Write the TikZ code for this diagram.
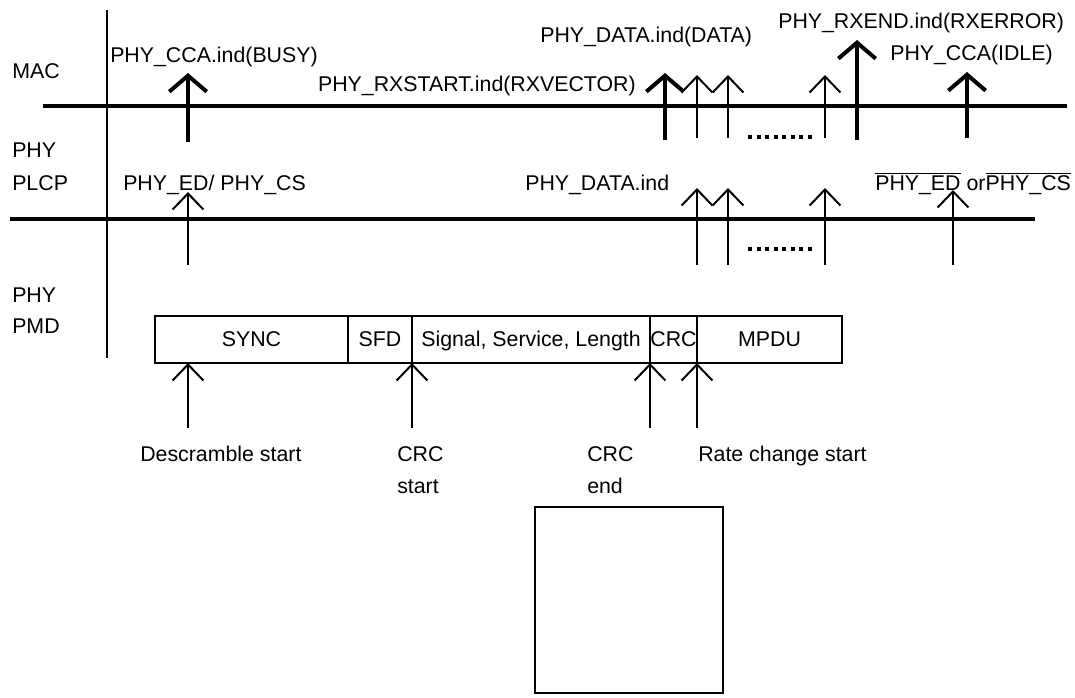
\documentclass[tikz,border=0pt]{standalone}
\usepackage{fontspec}
\setmainfont{Liberation Sans}
\usetikzlibrary{arrows.meta,positioning}
\tikzset{>=latex}
\tikzset{font=\fontsize{16}{24}\selectfont}
\tikzset{layer/.style={line width=3pt},
  bigup/.style={line width=3pt, -{Straight Barb[length=12pt,width=28pt]}},
  smallup/.style={line width=1.5pt, -{Straight Barb[length=12pt,width=23pt]}},
  field/.style={draw, line width=1.5pt, minimum height=35.25pt, inner sep=0pt,
    outer sep=0pt, text height=11pt, text depth=0pt},
  lbl/.style={anchor=base west, inner sep=0pt},
  dots/.style={line width=2.6pt, dash pattern=on 3pt off 3.4pt}}

\begin{document}
\begin{tikzpicture}[x=0.75pt, y=-0.75pt]
  \useasboundingbox (0,0) rectangle (1075,697);
  % time axis and the two interfaces
  \draw[line width=1.5pt] (107,10) -- (107,358);
  \draw[layer] (43,106) -- (1067,106);
  \draw[layer] (10,219) -- (1035,219);
  \node[lbl] (mac) at (12,78) {MAC};
  \node[lbl] (phya) at (12,157) {PHY};
  \node[lbl] (plcp) at (12,190) {PLCP};
  \node[lbl] (phyb) at (12,302) {PHY};
  \node[lbl] (pmd) at (12,333) {PMD};

  % primitives to the MAC
  \node[lbl] (busy) at (110,62) {PHY\_CCA.ind(BUSY)};
  \node[anchor=base east, inner sep=0pt] (rxstart) at (636,91) {PHY\_RXSTART.ind(RXVECTOR)};
  \node[lbl] (data) at (540,42) {PHY\_DATA.ind(DATA)};
  \node[lbl] (rxend) at (778,28) {PHY\_RXEND.ind(RXERROR)};
  \node[lbl] (idle) at (890,60) {PHY\_CCA(IDLE)};
  \draw[bigup] (188,142) -- (188,73);
  \draw[bigup] (665,140) -- (665,73);
  \draw[bigup] (857,140) -- (857,40);
  \draw[bigup] (967,138) -- (967,72);
  \foreach \x in {697,728,825}
    \draw[smallup] (\x,138) -- (\x,75);
  \draw[dots] (748,137) -- (815,137);

  % PLCP primitives
  \node[lbl] (edcs) at (123,190) {PHY\_ED/ PHY\_CS};
  \node[lbl] (dataind) at (525,190) {PHY\_DATA.ind};
  \node[lbl] (noedcs) at (875,190) {\(\overline{\mbox{PHY\_ED}}\) or\(\overline{\mbox{PHY\_CS}}\)};
  \draw[smallup] (188,265) -- (188,192);
  \draw[smallup] (953,265) -- (953,190);
  \foreach \x in {697,728,825}
    \draw[smallup] (\x,265) -- (\x,188);
  \draw[dots] (748,249) -- (815,249);

  % PPDU fields
  \node[field, minimum width=144.75pt, anchor=north west] (sync) at (155,316) {SYNC};
  \node[field, minimum width=48pt, right=0pt of sync] (sfd) {SFD};
  \node[field, minimum width=178.5pt, right=0pt of sfd] (sig) {Signal, Service, Length};
  \node[field, minimum width=35.25pt, right=0pt of sig] (crc) {CRC};
  \node[field, minimum width=108.75pt, right=0pt of crc] (mpdu) {MPDU};

  % receive events
  \draw[smallup] ([xshift=24.75pt, yshift=-48.75pt]sync.south west) -- ([xshift=24.75pt]sync.south west);
  \draw[smallup] ([yshift=-48.75pt]sfd.south east) -- (sfd.south east);
  \draw[smallup] ([yshift=-48.75pt]sig.south east) -- (sig.south east);
  \draw[smallup] ([yshift=-48.75pt]crc.south east) -- (crc.south east);
  \node[lbl] (desc) at (140,461) {Descramble start};
  \node[lbl] (crcs) at (397,461) {CRC};
  \node[lbl] (crcsb) at (397,493) {start};
  \node[lbl] (crce) at (587,461) {CRC};
  \node[lbl] (crceb) at (587,493) {end};
  \node[lbl] (rate) at (698,461) {Rate change start};

  \node[draw, line width=1.5pt, inner sep=0pt, outer sep=0pt, minimum width=141pt,
    minimum height=139.5pt, anchor=north west] (blank) at (535,507) {};
\end{tikzpicture}
\end{document}
